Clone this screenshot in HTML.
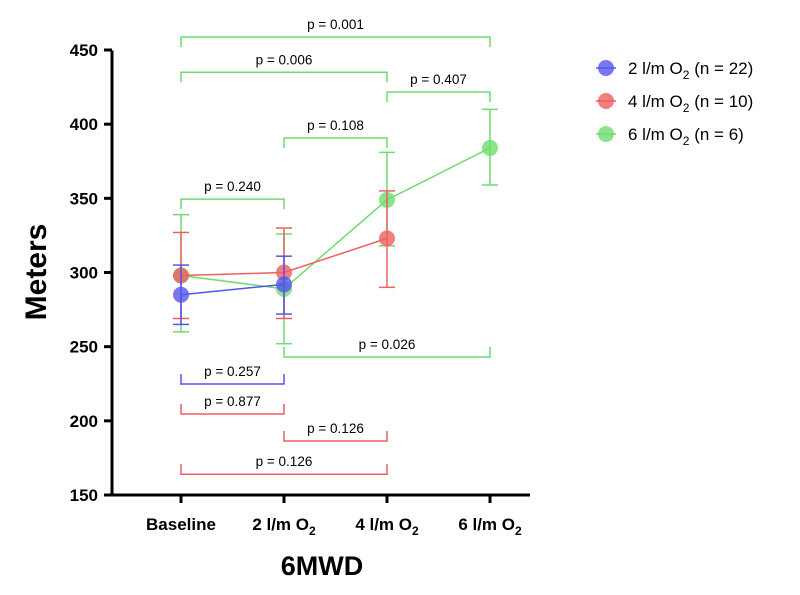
<!DOCTYPE html>
<html><head><meta charset="utf-8"><style>
body{margin:0;background:#fff}
svg{display:block;font-family:"Liberation Sans",Arial,sans-serif}
</style></head><body>
<svg id="chart" width="800" height="595" viewBox="0 0 800 595"></svg>
<script>
const categories=["Baseline","2 l/m O2","4 l/m O2","6 l/m O2"];
const blueMean=[285,292];
const blueLo=[265,272];
const blueHi=[305,311];
const redMean=[298,300,323];
const redLo=[269,269,290];
const redHi=[327,330,355];
const greenMean=[298,289,349,384];
const greenLo=[260,252,318,359];
const greenHi=[339,326,381,410];
const yTicks=[150,200,250,300,350,400,450];
// brackets: [fromIdx,toIdx,yValue,label,color,direction(1=down tips,-1=up tips)]
const bracketFrom=[0,0,2,1,0,1,0,0,1,0];
const bracketTo=[3,2,3,2,1,3,1,1,2,2];
const bracketY=[458.8,435,421.7,390.7,349.5,243,224.8,204.6,186.4,164];
const bracketLabel=["p = 0.001","p = 0.006","p = 0.407","p = 0.108","p = 0.240","p = 0.026","p = 0.257","p = 0.877","p = 0.126","p = 0.126"];
const bracketColor=["g","g","g","g","g","g","b","r","r","r"];
const bracketDir=[1,1,1,1,1,-1,-1,-1,-1,-1];

const NS="http://www.w3.org/2000/svg";
const svg=document.getElementById('chart');
const X=i=>181+i*103;
const Y=v=>495-(v-150)*1.4833;
const col={b:"#5555ee",r:"#ee5f5f",g:"#6fdc6f"};
function el(t,a,p){const e=document.createElementNS(NS,t);for(const k in a)e.setAttribute(k,a[k]);(p||svg).appendChild(e);return e;}

let ax=el('line',{x1:112,y1:Y(150),x2:112,y2:Y(450)+0.5,stroke:'#000','stroke-width':3});


ax=el('line',{x1:110.5,y1:495,x2:530,y2:495,stroke:'#000','stroke-width':3});


yTicks.forEach(v=>{
 el('line',{x1:104,x2:112,y1:Y(v),y2:Y(v),stroke:'#000','stroke-width':3});
 const t=el('text',{x:98,y:Y(v)+6,'text-anchor':'end','font-size':17,'font-weight':'bold'});
 t.textContent=v;
 
 
});
categories.forEach((c,i)=>{
 el('line',{x1:X(i),x2:X(i),y1:495,y2:503,stroke:'#000','stroke-width':3});
 const t=el('text',{x:X(i),y:530,'text-anchor':'middle','font-size':17,'font-weight':'bold'});
 if(c.endsWith('O2')){t.textContent=c.slice(0,-1);const s=el('tspan',{'font-size':12,dy:5},t);s.textContent='2';}
 else t.textContent=c;
 
 
});
let t=el('text',{x:46,y:272,'text-anchor':'middle','font-size':30,'font-weight':'bold',transform:'rotate(-90 46 272)'});
t.textContent='Meters';


t=el('text',{x:322,y:575,'text-anchor':'middle','font-size':27,'font-weight':'bold'});
t.textContent='6MWD';



bracketFrom.forEach((f,k)=>{
 const y=Y(bracketY[k]),d=bracketDir[k]*10,c=col[bracketColor[k]];
 const p=el('path',{d:`M${X(f)} ${y+d}V${y}H${X(bracketTo[k])}V${y+d}`,fill:'none',stroke:c,'stroke-width':1.5});
 
 
 const tx=el('text',{x:(X(f)+X(bracketTo[k]))/2,y:y-8,'text-anchor':'middle','font-size':13.5,fill:'#000'});
 tx.textContent=bracketLabel[k];
 
 
});

function series(mean,lo,hi,c,name){
 const g=el('g',{});
 
 
 mean.forEach((m,i)=>{
  el('line',{x1:X(i),x2:X(i),y1:Y(lo[i]),y2:Y(hi[i]),stroke:c,'stroke-width':1.5},g);
  [lo[i],hi[i]].forEach(v=>el('line',{x1:X(i)-8,x2:X(i)+8,y1:Y(v),y2:Y(v),stroke:c,'stroke-width':1.5},g));
 });
 el('polyline',{points:mean.map((m,i)=>X(i)+','+Y(m)).join(' '),fill:'none',stroke:c,'stroke-width':1.5},g);
 mean.forEach((m,i)=>{
  const ci=el('circle',{cx:X(i),cy:Y(m),r:8,fill:c,'fill-opacity':0.8},g);
  
  
 });
}
series(greenMean,greenLo,greenHi,col.g,'series-6lm');
series(redMean,redLo,redHi,col.r,'series-4lm');
series(blueMean,blueLo,blueHi,col.b,'series-2lm');

const leg=[["2 l/m O","(n = 22)",col.b],["4 l/m O","(n = 10)",col.r],["6 l/m O","(n = 6)",col.g]];
leg.forEach((l,i)=>{
 const y=68+i*33;
 const g=el('g',{});
 
 
 el('circle',{cx:606,cy:y,r:8,fill:l[2],'fill-opacity':0.8},g);
 el('line',{x1:596,x2:616,y1:y,y2:y,stroke:l[2],'stroke-width':1.5},g);
 const tx=el('text',{x:628,y:y+6,'font-size':17},g);
 tx.textContent=l[0];
 const s=el('tspan',{'font-size':12,dy:5},tx);s.textContent='2';
 const s2=el('tspan',{dy:-5},tx);s2.textContent=' '+l[1];
});
</script>
</body></html>
